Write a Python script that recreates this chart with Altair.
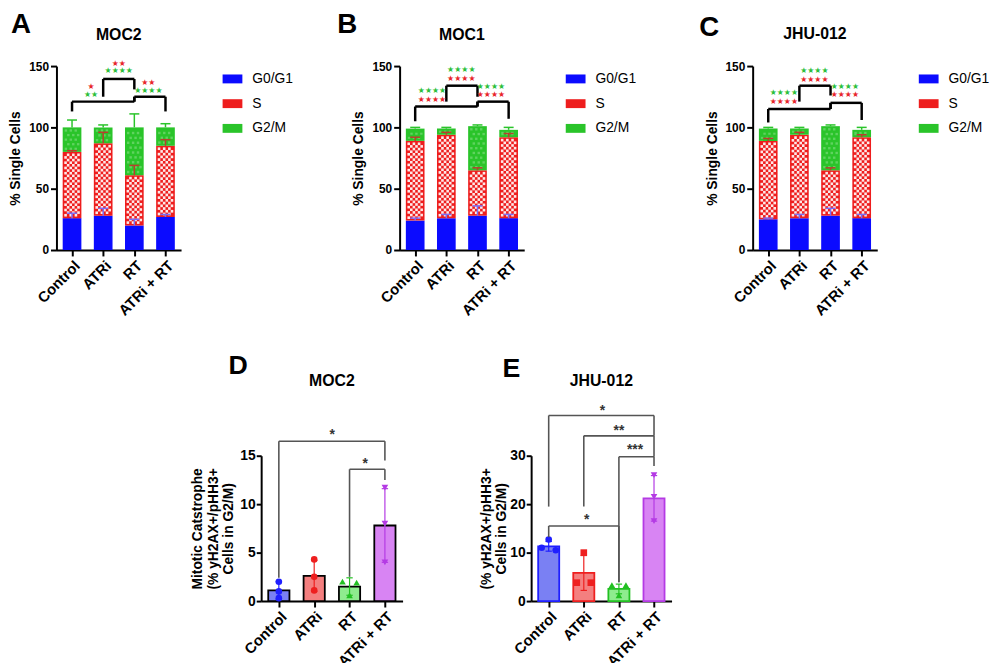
import json
import pandas as pd
import altair as alt

FONT = "Liberation Sans"
STAR_FONT = "DejaVu Sans"

CATS = ["Control", "ATRi", "RT", "ATRi + RT"]
PHASES = ["G0/G1", "S", "G2/M"]
PHASE_COLORS = ["#0b0bff", "#ee1d1d", "#2ac42a"]
ERR_COLORS = ["#7b6cf5", "#b8402c", "#2ac42a"]
SIG_COLORS = {"r": "#e8262b", "g": "#2cbf3b"}

TOP_TITLES = ["MOC2", "MOC1", "JHU-012"]
TOP_LETTERS = ["A", "B", "C"]

# ---- Panel A (MOC2): mean % and SD per phase
A_G1 = [26, 28, 20, 27]
A_S = [54, 59, 41, 58]
A_G2 = [20, 13, 39, 15]
A_G1_SD = [4, 6, 5, 2]
A_S_SD = [1, 9, 8, 5]
A_G2_SD = [6, 2, 11, 3]
A_BRACKETS = [[1, 2, 139.5, 125, 131], [0, 2, 121, 113, 125], [2, 3, 125, 121, 113]]
A_STAR_X = [1.5, 1.5, 0.61, 0.61, 2.45, 2.45]
A_STAR_Y = [152, 146, 133, 126, 136, 130]
A_STAR_TXT = ["★★", "★★★★", "★", "★★", "★★", "★★★★"]
A_STAR_COL = ["r", "g", "r", "g", "r", "g"]

# ---- Panel B (MOC1)
B_G1 = [24, 26, 28, 26]
B_S = [65, 68, 37, 66]
B_G2 = [10, 5, 36, 6]
B_G1_SD = [2, 3, 8, 3]
B_S_SD = [3, 2, 2, 3]
B_G2_SD = [1, 1, 1, 2]
B_BRACKETS = [[1, 2, 134, 121, 125], [0, 2, 117, 105, 121], [2, 3, 121, 117, 107]]
B_STAR_X = [1.48, 1.48, 0.54, 0.54, 2.43, 2.43]
B_STAR_Y = [146.5, 139.5, 130, 122.5, 133, 126]
B_STAR_TXT = ["★★★★", "★★★★", "★★★★", "★★★★", "★★★★", "★★★★"]
B_STAR_COL = ["g", "r", "g", "r", "g", "r"]

# ---- Panel C (JHU-012)
C_G1 = [25, 26, 28, 26]
C_S = [64, 68, 37, 66]
C_G2 = [10, 5, 36, 6]
C_G1_SD = [1, 3, 6, 3]
C_S_SD = [2, 2, 2, 2]
C_G2_SD = [1, 1, 1, 2]
C_BRACKETS = [[1, 2, 134, 121, 126], [0, 2, 115, 104, 120], [2, 3, 120, 115, 106]]
C_STAR_X = [1.48, 1.48, 0.5, 0.5, 2.46, 2.46]
C_STAR_Y = [146, 139, 128, 121, 133, 126]
C_STAR_TXT = ["★★★★", "★★★★", "★★★★", "★★★★", "★★★★", "★★★★"]
C_STAR_COL = ["g", "r", "g", "r", "g", "r"]

# ---- Panel D (MOC2 mitotic catastrophe)
D_MEAN = [1.1, 2.6, 1.5, 7.8]
D_SD = [0.9, 1.6, 0.9, 3.8]
D_POINTS = [[2.0, 1.0, 0.3], [4.3, 2.5, 1.1], [2.0, 1.9, 0.6], [11.7, 8.0, 4.0]]
D_JITTER = [[0, 0, 0], [0, 0, 0], [-0.2, 0.2, 0], [0, 0, 0]]
D_SHAPES = ["circle", "circle", "triangle-up", "triangle-down"]
D_BRACKETS = [[0, 3, 16.5, 2.4, 14.5], [2, 3, 13.6, 2.5, 12.5]]
D_STAR_X = [1.51, 2.44]
D_STAR_Y = [17.5, 14.5]
D_STAR_TXT = ["*", "*"]

# ---- Panel E (JHU-012)
E_MEAN = [11.3, 5.8, 2.5, 21.2]
E_SD = [1.0, 3.6, 1.0, 4.7]
E_POINTS = [[12.7, 11.0, 10.5], [10.0, 3.8, 3.8], [3.3, 3.3, 1.2], [26.0, 21.5, 16.5]]
E_JITTER = [[0, -0.2, 0.2], [0, -0.2, 0.2], [-0.2, 0.2, 0], [0, 0, 0]]
E_SHAPES = ["circle", "square", "triangle-up", "triangle-down"]
E_BRACKETS = [[0, 3, 38.3, 19.5, 34.1], [1, 3, 34.1, 19.5, 29.8], [2, 3, 29.8, 3.9, 27.9], [0, 2, 15.5, 13.2, 3.9]]
E_STAR_X = [1.53, 2.0, 2.46, 1.08]
E_STAR_Y = [40, 36, 31.9, 17.6]
E_STAR_TXT = ["*", "**", "***", "*"]

GROUP_FILL = ["#7a80f3", "#f47f7f", "#8eec8e", "#d884f3"]
GROUP_DARK = ["#1f1fff", "#ee1f1f", "#22c022", "#b43ae4"]

LABEL_EXPR = json.dumps(CATS) + "[datum.value]"
LEGEND_PATH = "M-1,-0.45L1,-0.45L1,0.45L-1,0.45Z"


def x_axis():
    return alt.Axis(values=[0, 1, 2, 3], labelExpr=LABEL_EXPR, labelAngle=-45, labelAlign="right",
                    labelBaseline="top", labelFont=FONT, labelFontSize=15, labelFontWeight="bold",
                    labelColor="black", labelPadding=2, labelFlush=False, labelOverlap=False,
                    domainColor="black", domainWidth=2, tickColor="black", tickWidth=2, tickSize=6,
                    grid=False, title=None)


def y_axis(values, title, pad, lsize, tick, lpad):
    return alt.Axis(values=values, labelFont=FONT, labelFontSize=lsize, labelFontWeight="bold",
                    labelColor="black", labelFlush=False, labelOverlap=False, labelPadding=lpad,
                    domainColor="black", domainWidth=2, tickColor="black", tickWidth=2, tickSize=tick,
                    grid=False, title=title, titleFont=FONT, titleFontSize=14, titleFontWeight="bold",
                    titleColor="black", titlePadding=pad, titleLineHeight=16)


def enc(ydom, yvals, ytitle, ypad, lsize, tick, lpad):
    xs = alt.Scale(domain=[-0.5, 3.5], nice=False, zero=False)
    ys = alt.Scale(domain=ydom, nice=False, zero=False)
    X = lambda f: alt.X(f, type="quantitative", scale=xs, axis=x_axis())
    Y = lambda f: alt.Y(f, type="quantitative", scale=ys,
                        axis=y_axis(yvals, ytitle, ypad, lsize, tick, lpad))
    return X, Y


def checker(bars, W, H, xspan, yspan, cell, inset, sparse=False):
    pxx, pxy = W / xspan, H / yspan
    rows = []
    for b in bars:
        x0, x1 = b["x"] + inset / pxx, b["x2"] - inset / pxx
        y0, y1 = b["y"] + inset / pxy, b["y2"] - inset / pxy
        if y1 <= y0:
            continue
        nc = max(1, round((x1 - x0) * pxx / cell))
        nr = max(1, round((y1 - y0) * pxy / cell))
        cw, ch = (x1 - x0) / nc, (y1 - y0) / nr
        for r in range(nr):
            for c in range(nc):
                if sparse:
                    ok = (r % 2 == 0) and ((c + r // 2) % 2 == 0)
                else:
                    ok = (r + c) % 2 == 0
                if ok:
                    rows.append({"x": x0 + c * cw, "x2": x0 + (c + 1) * cw,
                                 "y": y0 + r * ch, "y2": y0 + (r + 1) * ch})
    return pd.DataFrame(rows)


def bracket_df(brackets):
    rows = []
    for l, r, top, lb, rb in brackets:
        rows.append({"x": l, "x2": r, "y": top, "y2": top})
        rows.append({"x": l, "x2": l, "y": lb, "y2": top})
        rows.append({"x": r, "x2": r, "y": rb, "y2": top})
    return pd.DataFrame(rows)


def label_layers(W, title, letter, title_dy, letter_dx, letter_dy, letter_size):
    t = alt.Chart(pd.DataFrame({"t": [title]})).mark_text(
        font=FONT, fontSize=16, fontWeight="bold", color="black", baseline="middle").encode(
        x=alt.value(W / 2), y=alt.value(title_dy), text="t:N")
    l = alt.Chart(pd.DataFrame({"t": [letter]})).mark_text(
        font=FONT, fontSize=letter_size, fontWeight="bold", color="black", align="left",
        baseline="middle").encode(x=alt.value(letter_dx), y=alt.value(letter_dy), text="t:N")
    return [t, l]


def stacked_panel(idx, g1, s, g2, g1sd, ssd, g2sd, brackets, sx, sy, stxt, scol, letter_dx, letter_dy,
                  title_dy):
    W, H = 126, 186
    X, Y = enc([0, 150], [0, 50, 100, 150], "% Single Cells", 6, 12, 6, 2)
    bars, errs = [], []
    for i in range(4):
        lo = 0.0
        for k, (v, sd) in enumerate(zip((g1[i], s[i], g2[i]), (g1sd[i], ssd[i], g2sd[i]))):
            hi = lo + v
            bars.append({"x": i - 0.3, "x2": i + 0.3, "y": lo, "y2": hi, "phase": PHASES[k]})
            errs.append({"x": i, "y": hi, "y2": hi + sd, "xc": i - 0.16, "xc2": i + 0.16,
                         "ec": ERR_COLORS[k]})
            lo = hi
    bdf = pd.DataFrame(bars)
    edf = pd.DataFrame(errs)
    s_pat = checker([b for b in bars if b["phase"] == "S"], W, H, 4, 150, 2.7, 1.6)
    g_pat = checker([b for b in bars if b["phase"] == "G2/M"], W, H, 4, 150, 2.4, 2.0, sparse=True)

    bar_layer = alt.Chart(bdf).mark_rect().encode(
        x=X("x"), x2="x2", y=Y("y"), y2="y2",
        color=alt.Color("phase:N", scale=alt.Scale(domain=PHASES, range=PHASE_COLORS),
                        legend=alt.Legend(title=None, orient="none", legendX=168, legendY=3,
                                          symbolType=LEGEND_PATH, symbolSize=400, symbolOpacity=1,
                                          symbolStrokeWidth=0, labelFont=FONT, labelFontSize=14,
                                          labelColor="black", labelOffset=10, rowPadding=8,
                                          padding=0)))
    s_layer = alt.Chart(s_pat).mark_rect(color="white", opacity=0.9).encode(
        x=X("x"), x2="x2", y=Y("y"), y2="y2")
    g_layer = alt.Chart(g_pat).mark_rect(color="white", opacity=0.25).encode(
        x=X("x"), x2="x2", y=Y("y"), y2="y2")
    e_rule = alt.Chart(edf).mark_rule(strokeWidth=1.5).encode(
        x=X("x"), y=Y("y"), y2="y2", color=alt.Color("ec:N", scale=None))
    e_cap = alt.Chart(edf).mark_rule(strokeWidth=1.5).encode(
        x=X("xc"), x2="xc2", y=Y("y2"), color=alt.Color("ec:N", scale=None))
    br = alt.Chart(bracket_df(brackets)).mark_rule(strokeWidth=2.5, color="black").encode(
        x=X("x"), x2="x2", y=Y("y"), y2="y2")
    sdf = pd.DataFrame({"x": sx, "y": sy, "t": stxt, "c": [SIG_COLORS[c] for c in scol]})
    st = alt.Chart(sdf).mark_text(font=STAR_FONT, fontSize=8, baseline="middle").encode(
        x=X("x"), y=Y("y"), text="t:N", color=alt.Color("c:N", scale=None))
    labels = label_layers(W, TOP_TITLES[idx], TOP_LETTERS[idx], title_dy, letter_dx, letter_dy, 28)
    return alt.layer(bar_layer, s_layer, g_layer, e_rule, e_cap, br, st, *labels).properties(
        width=W, height=H)


def dot_panel(W, H, ydom, yvals, ytitle, ypad, mean, sd, points, jitter, shapes, bar_stroke,
              brackets, sx, sy, stxt, title, letter, title_dy, letter_dx, letter_dy):
    X, Y = enc(ydom, yvals, ytitle, ypad, 14, 5, 1)
    bdf = pd.DataFrame({"x": [i - 0.3 for i in range(4)], "x2": [i + 0.3 for i in range(4)],
                        "y": [0] * 4, "y2": mean, "f": GROUP_FILL, "s": bar_stroke})
    edf = pd.DataFrame({"x": list(range(4)), "lo": [m - d for m, d in zip(mean, sd)],
                        "hi": [m + d for m, d in zip(mean, sd)], "c": GROUP_DARK})
    cdf = pd.DataFrame({"xc": [i - 0.09 for i in range(4)] * 2, "xc2": [i + 0.09 for i in range(4)] * 2,
                        "y": list(edf["lo"]) + list(edf["hi"]), "c": GROUP_DARK * 2})
    prow = []
    for i in range(4):
        for v, j in zip(points[i], jitter[i]):
            prow.append({"x": i + j, "y": v, "c": GROUP_DARK[i], "sh": shapes[i]})
    pdf = pd.DataFrame(prow)
    bar_layer = alt.Chart(bdf).mark_rect(strokeWidth=1.8).encode(
        x=X("x"), x2="x2", y=Y("y"), y2="y2", fill=alt.Fill("f:N", scale=None),
        stroke=alt.Stroke("s:N", scale=None))
    e_rule = alt.Chart(edf).mark_rule(strokeWidth=1.2).encode(
        x=X("x"), y=Y("lo"), y2="hi", color=alt.Color("c:N", scale=None))
    e_cap = alt.Chart(cdf).mark_rule(strokeWidth=1.2).encode(
        x=X("xc"), x2="xc2", y=Y("y"), color=alt.Color("c:N", scale=None))
    pts = alt.Chart(pdf).mark_point(filled=True, size=45, opacity=1).encode(
        x=X("x"), y=Y("y"), color=alt.Color("c:N", scale=None), shape=alt.Shape("sh:N", scale=None))
    br = alt.Chart(bracket_df(brackets)).mark_rule(strokeWidth=1.6, color="#555555").encode(
        x=X("x"), x2="x2", y=Y("y"), y2="y2")
    sdf = pd.DataFrame({"x": sx, "y": sy, "t": stxt})
    st = alt.Chart(sdf).mark_text(font=FONT, fontSize=14, fontWeight="bold", color="#333333",
                                  baseline="middle", dy=4).encode(x=X("x"), y=Y("y"), text="t:N")
    labels = label_layers(W, title, letter, title_dy, letter_dx, letter_dy, 27)
    return alt.layer(bar_layer, e_rule, e_cap, pts, br, st, *labels).properties(width=W, height=H)


def indep(c):
    return c.resolve_scale(color="independent", fill="independent", stroke="independent",
                           shape="independent").resolve_legend(color="independent")


A = stacked_panel(0, A_G1, A_S, A_G2, A_G1_SD, A_S_SD, A_G2_SD, A_BRACKETS, A_STAR_X, A_STAR_Y,
                  A_STAR_TXT, A_STAR_COL, -46, -41, -31)
B = stacked_panel(1, B_G1, B_S, B_G2, B_G1_SD, B_S_SD, B_G2_SD, B_BRACKETS, B_STAR_X, B_STAR_Y,
                  B_STAR_TXT, B_STAR_COL, -63, -41, -31)
C = stacked_panel(2, C_G1, C_S, C_G2, C_G1_SD, C_S_SD, C_G2_SD, C_BRACKETS, C_STAR_X, C_STAR_Y,
                  C_STAR_TXT, C_STAR_COL, -54, -38, -32)

D = dot_panel(143, 147, [0, 15], [0, 5, 10, 15],
              ["Mitotic Catstrophe", "(% yH2AX+/pHH3+", "Cells in  G2/M)"], 4,
              D_MEAN, D_SD, D_POINTS, D_JITTER, D_SHAPES, ["black"] * 4,
              D_BRACKETS, D_STAR_X, D_STAR_Y, D_STAR_TXT, "MOC2", "D", -75, -33, -91)
E = dot_panel(142, 147, [0, 30], [0, 10, 20, 30],
              ["(% yH2AX+/pHH3+", "Cells in  G2/M)"], 1,
              E_MEAN, E_SD, E_POINTS, E_JITTER, E_SHAPES, GROUP_DARK,
              E_BRACKETS, E_STAR_X, E_STAR_Y, E_STAR_TXT, "JHU-012", "E", -75, -29, -88)

spacer = alt.Chart(pd.DataFrame({"a": [0]})).mark_point(opacity=0).encode(
    x=alt.value(0), y=alt.value(0)).properties(width=58, height=10)

top = indep(alt.hconcat(indep(alt.hconcat(A, B, spacing=44)), C, spacing=63))
bottom = indep(alt.hconcat(spacer, D, E, spacing=77))
chart = indep(alt.vconcat(top, bottom, spacing=34)).properties(
    padding={"left": 0, "top": 0, "right": 0, "bottom": 0}
).configure_view(stroke=None)

chart.save("out.html", embed_options={"renderer": "svg", "actions": False})
